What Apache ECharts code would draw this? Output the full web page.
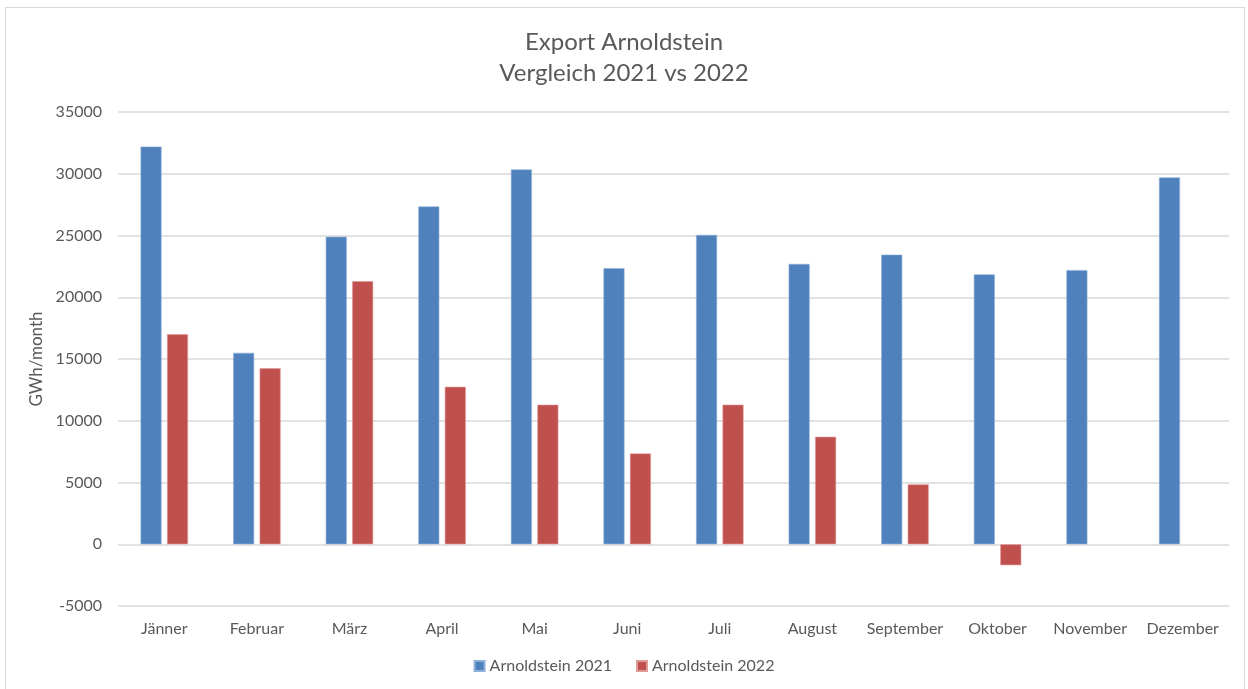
<!DOCTYPE html>
<html>
<head>
<meta charset="utf-8">
<script src="https://cdn.jsdelivr.net/npm/echarts@6/dist/echarts.min.js"></script>
<style>
  html, body { margin: 0; padding: 0; background: #fff; }
  #frame {
    position: absolute; left: 5px; top: 7px; width: 1240px; height: 700px;
    border: 1px solid #d9d9d9; box-sizing: border-box;
  }
  #chart { position: absolute; left: 0; top: 0; width: 1248px; height: 689px; }
</style>
</head>
<body>
<div id="frame"></div>
<div id="chart"></div>
<script>
// Monate
const months = ["Jänner", "Februar", "März", "April", "Mai", "Juni", "Juli",
  "August", "September", "Oktober", "November", "Dezember"]
// GWh/month
const export2021 = [32200, 15500, 24900, 27350, 30350, 22350, 25050, 22700, 23450, 21850, 22200, 29700]
const export2022 = [17000, 14250, 21300, 12750, 11300, 7350, 11300, 8700, 4850, -1700, null, null]

const textColor = "#595959"
const font = "Lato, 'Open Sans', sans-serif"

const chart = echarts.init(document.getElementById("chart"))
chart.setOption({
  animation: false,
  textStyle: { fontFamily: font },
  title: {
    text: "Export Arnoldstein\nVergleich 2021 vs 2022",
    left: "center",
    top: 22,
    textStyle: {
      color: textColor,
      fontSize: 24,
      fontWeight: "normal",
      lineHeight: 31,
      fontFamily: font,
    },
  },
  legend: {
    bottom: 10,
    left: "center",
    itemWidth: 10,
    itemHeight: 10,
    itemGap: 24,
    icon: "rect",
    textStyle: { color: textColor, fontSize: 16, fontFamily: font },
  },
  grid: {
    left: 118,
    right: 19,
    top: 112,
    bottom: 83,
  },
  xAxis: {
    type: "category",
    data: months,
    axisLine: { show: false, onZero: false },
    axisTick: { show: false },
    axisLabel: { color: textColor, fontSize: 16, margin: 15, interval: 0, fontFamily: font },
  },
  yAxis: {
    type: "value",
    min: -5000,
    max: 35000,
    interval: 5000,
    name: "GWh/month",
    nameLocation: "middle",
    nameGap: 62,
    nameTextStyle: { color: textColor, fontSize: 17, fontFamily: font },
    axisLabel: {
      color: textColor,
      fontSize: 16,
      margin: 16,
      fontFamily: font,
      formatter: (v) => String(v),
    },
    splitLine: { lineStyle: { color: "#d9d9d9", width: 1.5 } },
  },
  series: [
    {
      name: "Arnoldstein 2021",
      type: "bar",
      data: export2021,
      barWidth: 21,
      barGap: "26%",
      itemStyle: { color: "#4F81BD", borderColor: "#8fb0d8", borderWidth: 0.6 },
    },
    {
      name: "Arnoldstein 2022",
      type: "bar",
      data: export2022,
      barWidth: 21,
      itemStyle: { color: "#C0504D", borderColor: "#e09a98", borderWidth: 0.6 },
    },
  ],
})
</script>
</body>
</html>
